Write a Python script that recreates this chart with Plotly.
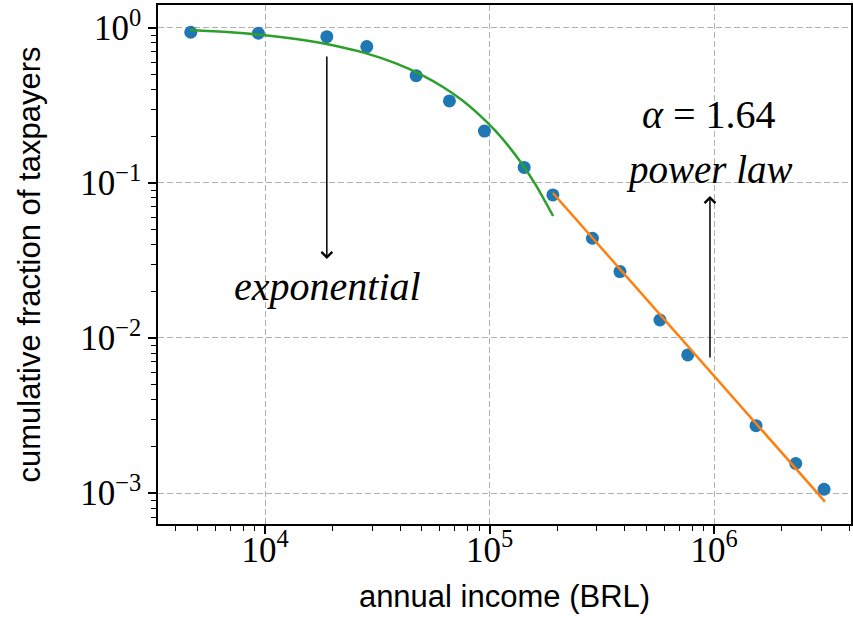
import numpy as np
import plotly.graph_objects as go

income = [4667, 9335, 18840, 28380, 47100, 66250, 94850, 142600, 191400,
          287200, 381000, 574000, 763500, 1538000, 2312000, 3090000]
cum_frac = [0.938, 0.924, 0.879, 0.758, 0.492, 0.338, 0.216, 0.126, 0.0837,
            0.0440, 0.0268, 0.01306, 0.00777, 0.00272, 0.00155, 0.001057]

# exponential fit curve
exp_x = [4634, 7000, 10000, 14000, 20000, 28000, 38000, 50000, 62000, 75000,
         90000, 105000, 120000, 140000, 160000, 191900]
exp_y = [0.970, 0.937, 0.897, 0.845, 0.774, 0.688, 0.593, 0.497, 0.416, 0.344,
         0.275, 0.2208, 0.1768, 0.1317, 0.0980, 0.0612]

# power-law fit line (alpha = 1.64), end points
pl_x = [191400, 3119000]
pl_y = [0.0862, 0.000879]

# arrows: (x, tail y, head y)
arrow_down = (18840, 0.670, 0.0323)
arrow_up = (959000, 0.00732, 0.0824)

x_ticks = [1e4, 1e5, 1e6]
x_ticktext = ["10<sup>4</sup>", "10<sup>5</sup>", "10<sup>6</sup>"]
y_ticks = [1, 1e-1, 1e-2, 1e-3]
y_ticktext = ["10<sup>0</sup>", "10<sup>\u22121</sup>", "10<sup>\u22122</sup>", "10<sup>\u22123</sup>"]

serif = "Liberation Serif"
sans = "Liberation Sans"

fig = go.Figure()
fig.add_trace(go.Scatter(x=income, y=cum_frac, mode="markers",
                         marker=dict(color="#1f77b4", size=13), showlegend=False))
fig.add_trace(go.Scatter(x=exp_x, y=exp_y, mode="lines",
                         line=dict(color="#2ca02c", width=2.5, shape="spline"), showlegend=False))
fig.add_trace(go.Scatter(x=pl_x, y=pl_y, mode="lines",
                         line=dict(color="#ff7f0e", width=2.5), showlegend=False))

lg = np.log10
for (ax_x, tail, head) in [arrow_down, arrow_up]:
    fig.add_annotation(x=lg(ax_x), y=lg(head), ax=lg(ax_x), ay=lg(tail),
                       xref="x", yref="y", axref="x", ayref="y",
                       showarrow=True, arrowhead=4, arrowsize=1.4, arrowwidth=1.5,
                       arrowcolor="black", text="")

fig.add_annotation(x=lg(18900), y=lg(0.0215), text="<i>exponential</i>", showarrow=False,
                   font=dict(family=serif, size=40, color="black"), xanchor="center", yanchor="middle")
fig.add_annotation(x=lg(945000), y=lg(0.277), text="<i>\u03b1</i> = 1.64", showarrow=False,
                   font=dict(family=serif, size=40, color="black"), xanchor="center", yanchor="middle")
fig.add_annotation(x=lg(955000), y=lg(0.122), text="<i>power law</i>", showarrow=False,
                   font=dict(family=serif, size=39, color="black"), xanchor="center", yanchor="middle")

axis_common = dict(showline=True, linecolor="black", linewidth=1.5, mirror=True,
                   ticks="outside", ticklen=8, tickwidth=1.5, tickcolor="black",
                   showgrid=True, gridcolor="#b0b0b0", griddash="6px,3px", gridwidth=1,
                   zeroline=False, automargin=False,
                   tickfont=dict(family=serif, size=35, color="black"))

fig.update_xaxes(type="log", range=[3.523, 6.610], tickvals=x_ticks, ticktext=x_ticktext,
                 ticklabelstandoff=-14,
                 minor=dict(ticks="outside", ticklen=5, tickwidth=1.2, tickcolor="black",
                            dtick="D1", showgrid=False),
                 title=dict(text="annual income (BRL)", font=dict(family=sans, size=31, color="black"),
                            standoff=17),
                 **axis_common)
fig.update_yaxes(type="log", range=[-3.2, 0.148], tickvals=y_ticks, ticktext=y_ticktext,
                 minor=dict(ticks="outside", ticklen=5, tickwidth=1.2, tickcolor="black",
                            dtick="D1", showgrid=False),
                 title=dict(text="cumulative fraction of taxpayers", font=dict(family=sans, size=31, color="black"),
                            standoff=30),
                 **axis_common)

fig.update_layout(width=853, height=622, margin=dict(l=158, r=2, t=5, b=98),
                  plot_bgcolor="white", paper_bgcolor="white")

fig.write_html("out.html", post_script="document.body.style.margin='0';",
               config={"displayModeBar": False})
